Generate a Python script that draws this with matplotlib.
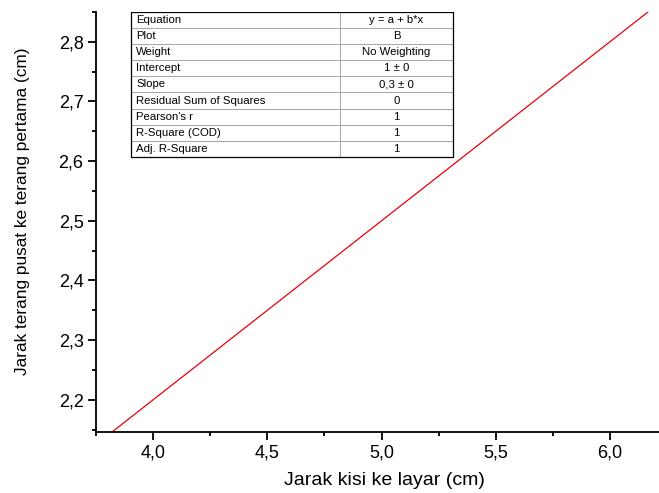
import matplotlib.pyplot as plt
import numpy as np
from matplotlib.ticker import FuncFormatter, MultipleLocator

plt.rcParams['font.family'] = ['Liberation Sans', 'DejaVu Sans']

# Datos del ajuste lineal
intercept = 1.0
slope = 0.3
fit_x = np.array([3.75, 6.25])

# Tabla de resultados
table_keys = ['Equation', 'Plot', 'Weight', 'Intercept', 'Slope',
              'Residual Sum of Squares', "Pearson's r", 'R-Square (COD)', 'Adj. R-Square']
table_vals = ['y = a + b*x', 'B', 'No Weighting', '1 \u00b1 0', '0,3 \u00b1 0',
              '0', '1', '1', '1']

fig = plt.figure(figsize=(6.59, 4.93), dpi=100)
ax = fig.add_axes([0.1457, 0.1237, 0.8543, 0.852])

ax.plot(fit_x, intercept + slope * fit_x, color='#e8000b', lw=0.9)

ax.set_xlim(3.75, 6.215)
ax.set_ylim(2.146, 2.85)

ax.spines['top'].set_visible(False)
ax.spines['right'].set_visible(False)
ax.spines['left'].set_linewidth(1.3)
ax.spines['bottom'].set_linewidth(1.3)

ax.xaxis.set_major_locator(MultipleLocator(0.5))
ax.xaxis.set_minor_locator(MultipleLocator(0.25))
ax.yaxis.set_major_locator(MultipleLocator(0.1))
ax.yaxis.set_minor_locator(MultipleLocator(0.05))
comma = FuncFormatter(lambda v, p: f'{v:.1f}'.replace('.', ','))
ax.xaxis.set_major_formatter(comma)
ax.yaxis.set_major_formatter(comma)
ax.tick_params(which='major', direction='out', length=6, width=1.3, labelsize=13, pad=3)
ax.tick_params(which='minor', direction='out', length=3, width=1.3)

ax.set_xlabel('Jarak kisi ke layar (cm)', fontsize=14)
ax.set_ylabel('Jarak terang pusat ke terang pertama (cm)', fontsize=12.4)
ax.xaxis.set_label_coords(0.512, -0.095)
ax.yaxis.set_label_coords(-0.117, 0.525)

# Tabla dentro de la gráfica
tbl = ax.table(cellText=[[k, v] for k, v in zip(table_keys, table_vals)],
               colWidths=[0.65, 0.35], bbox=[0.062, 0.655, 0.572, 0.345])
tbl.auto_set_font_size(False)
for (r, c), cell in tbl.get_celld().items():
    cell.set_fontsize(8.2)
    cell.set_edgecolor('#a0a0a0')
    cell.set_linewidth(0.6)
    cell.get_text().set_ha('left' if c == 0 else 'center')
    if c == 0:
        cell.PAD = 0.025
# borde exterior
ax.add_patch(plt.Rectangle((0.062, 0.655), 0.572, 0.345, transform=ax.transAxes,
                           fill=False, ec='black', lw=0.9, zorder=10))

fig.savefig('out.png', dpi=100)
